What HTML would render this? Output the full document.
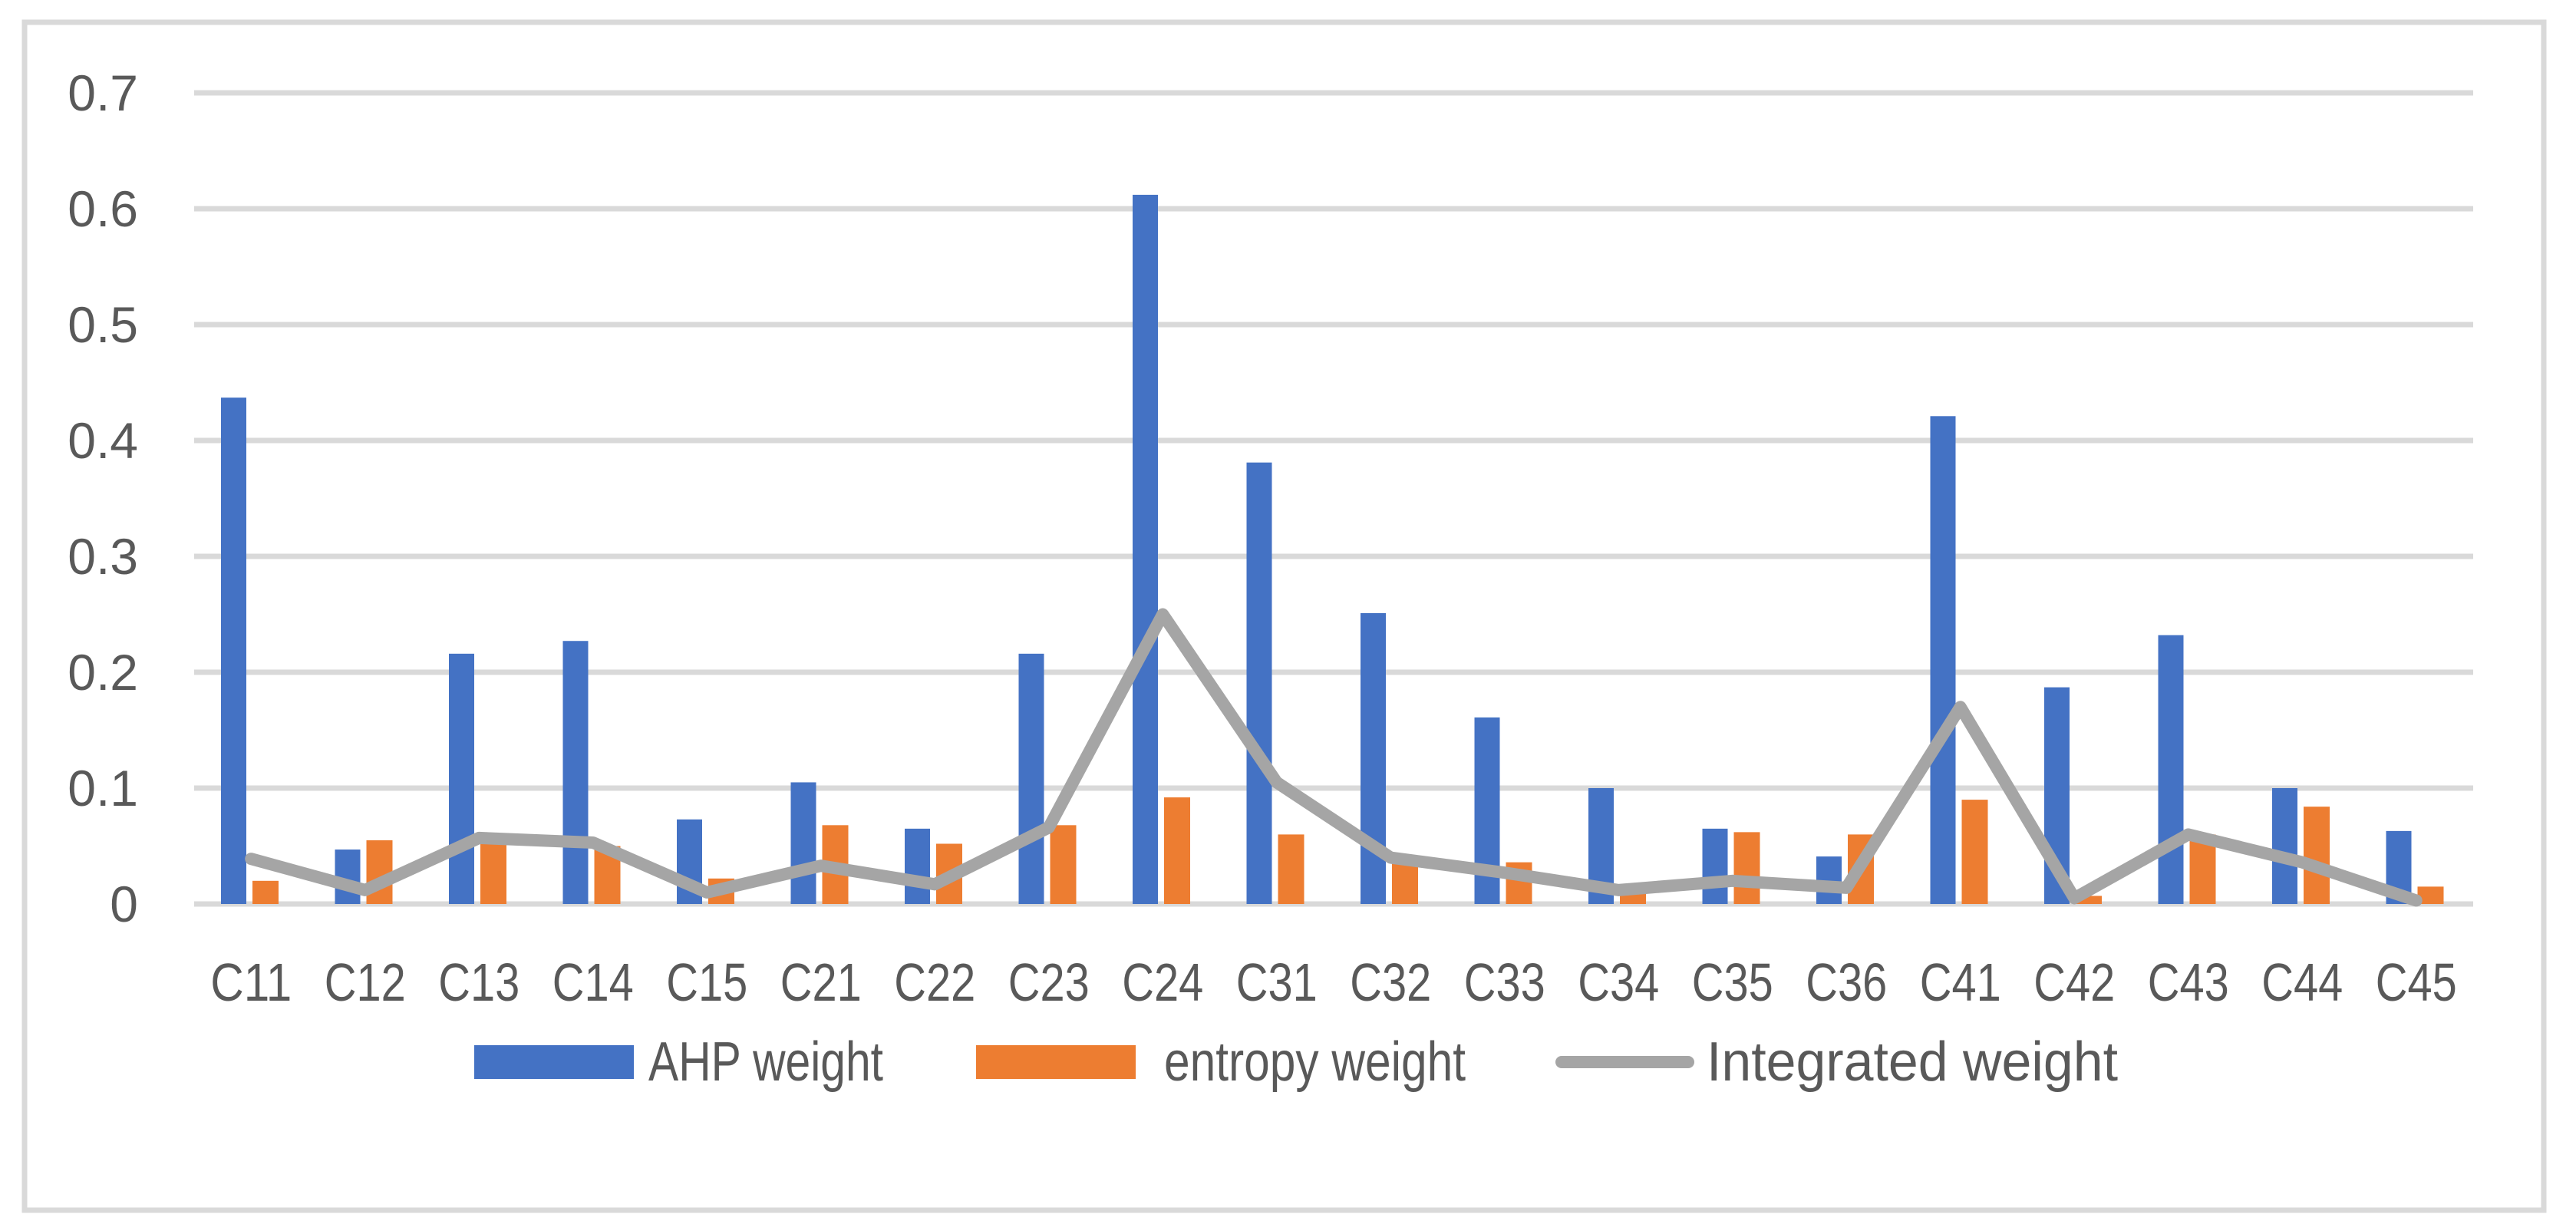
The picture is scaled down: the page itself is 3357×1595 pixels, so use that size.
<!DOCTYPE html>
<html><head><meta charset="utf-8"><style>
html,body{margin:0;padding:0;background:#fff;}
svg{display:block;font-family:"Liberation Sans",sans-serif;}
</style></head><body>
<svg id="chart" width="3357" height="1595" viewBox="0 0 3357 1595">
<rect x="32" y="29" width="3283" height="1548" fill="#fff" stroke="#d9d9d9" stroke-width="7"/>
<g id="grid"></g>
<g id="yticks"></g>
<g id="bars"></g>
<g id="line"></g>
<g id="xlabels"></g>
<g>
<rect x="618" y="1362" width="208" height="44" fill="#4472c4"/>
<text x="845" y="1408" font-size="72" fill="#595959" textLength="306" lengthAdjust="spacingAndGlyphs">AHP weight</text>
<rect x="1272" y="1362" width="208" height="44" fill="#ed7d31"/>
<text x="1517" y="1408" font-size="72" fill="#595959" textLength="393" lengthAdjust="spacingAndGlyphs">entropy weight</text>
<line x1="2035" y1="1384" x2="2200" y2="1384" stroke="#a5a5a5" stroke-width="16" stroke-linecap="round"/>
<text x="2224" y="1408" font-size="72" fill="#595959" textLength="536" lengthAdjust="spacingAndGlyphs">Integrated weight</text>
</g>
</svg>
<script>
const categories = ["C11","C12","C13","C14","C15","C21","C22","C23","C24","C31","C32","C33","C34","C35","C36","C41","C42","C43","C44","C45"];
const ahpWeight = [0.437,0.047,0.216,0.227,0.073,0.105,0.065,0.216,0.612,0.381,0.251,0.161,0.100,0.065,0.041,0.421,0.187,0.232,0.100,0.063];
const entropyWeight = [0.020,0.055,0.055,0.050,0.022,0.068,0.052,0.068,0.092,0.060,0.040,0.036,0.017,0.062,0.060,0.090,0.007,0.060,0.084,0.015];
const integratedWeight = [0.039,0.012,0.057,0.053,0.010,0.033,0.017,0.066,0.250,0.105,0.040,0.027,0.012,0.020,0.014,0.170,0.005,0.060,0.036,0.003];
const yTicks = [0,0.1,0.2,0.3,0.4,0.5,0.6,0.7];
const yTickLabels = ["0","0.1","0.2","0.3","0.4","0.5","0.6","0.7"];

const NS="http://www.w3.org/2000/svg";
const plotL=253, plotR=3223, y0=1178, yTop=121, yMax=0.7;
const band=(plotR-plotL)/categories.length;
function yScale(v){return y0-(v/yMax)*(y0-yTop);}
function xBand(i){return plotL+i*band;}
function mk(tag,attrs,parent){const e=document.createElementNS(NS,tag);for(const k in attrs)e.setAttribute(k,attrs[k]);parent.appendChild(e);return e;}

const grid=document.getElementById('grid'), yt=document.getElementById('yticks');
yTicks.forEach((t,i)=>{
  const l=mk('line',{x1:plotL,x2:plotR,y1:yScale(t),y2:yScale(t),stroke:'#d9d9d9','stroke-width':7},grid);
  
  
  const tx=mk('text',{x:180,y:yScale(t)+23,'font-size':66,fill:'#595959','text-anchor':'end'},yt);
  tx.textContent=yTickLabels[i];
  
  
});

const bars=document.getElementById('bars'), xl=document.getElementById('xlabels');
categories.forEach((c,i)=>{
  const b0=xBand(i);
  const h1=y0-yScale(ahpWeight[i]);
  const r1=mk('rect',{x:b0+35,y:yScale(ahpWeight[i]),width:33,height:h1,fill:'#4472c4'},bars);
  
  
  const h2=y0-yScale(entropyWeight[i]);
  const r2=mk('rect',{x:b0+76,y:yScale(entropyWeight[i]),width:34,height:h2,fill:'#ed7d31'},bars);
  
  
  const t=mk('text',{x:b0+band/2,y:1304,'font-size':70,fill:'#595959','text-anchor':'middle',textLength:106,lengthAdjust:'spacingAndGlyphs'},xl);
  t.textContent=c;
  
  
});

const pts=integratedWeight.map((v,i)=>(xBand(i)+band/2)+','+yScale(v)).join(' ');
const pl=mk('polyline',{points:pts,fill:'none',stroke:'#a5a5a5','stroke-width':16,'stroke-linejoin':'round','stroke-linecap':'round'},document.getElementById('line'));


</script>
</body></html>
